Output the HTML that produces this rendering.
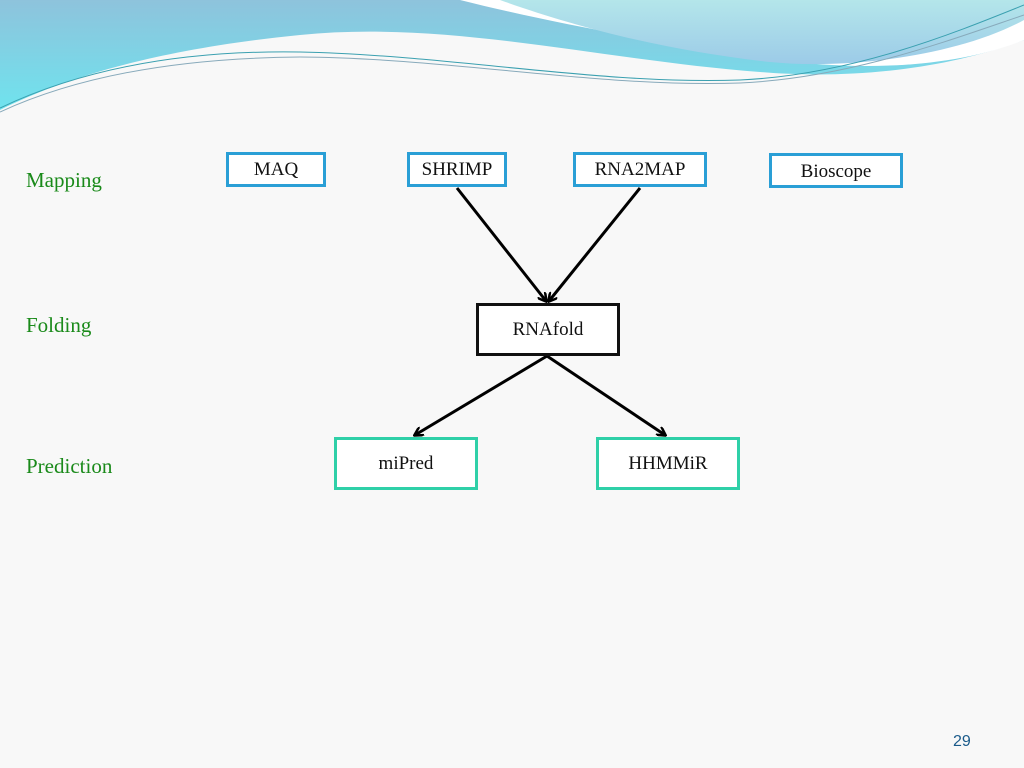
<!DOCTYPE html>
<html><head><meta charset="utf-8"><style>
html,body{margin:0;padding:0;}
body{width:1024px;height:768px;position:relative;background:#f8f8f8;font-family:"Liberation Serif",serif;overflow:hidden;}
.b{position:absolute;box-sizing:border-box;background:#fff;text-align:center;font-size:19px;color:#111;}
.bl{border:3px solid #2a9fd6;}
.bk{border:3px solid #111;}
.gr{border:3px solid #2fd0a8;}
.lab{position:absolute;color:#1a8a1a;font-size:21px;}
</style></head><body>
<svg width="1024" height="768" style="position:absolute;left:0;top:0">
<defs>
<linearGradient id="g1" x1="0" y1="0" x2="0" y2="1"><stop offset="0" stop-color="#8ec3dc"/><stop offset="1" stop-color="#6fe3ee"/></linearGradient>
<linearGradient id="g2" x1="0" y1="0" x2="0" y2="1"><stop offset="0" stop-color="#b4e6ea"/><stop offset="1" stop-color="#9ccbe8"/></linearGradient>
<marker id="ar" markerWidth="10" markerHeight="10" refX="8" refY="5" orient="auto" markerUnits="userSpaceOnUse"><path d="M0,0 L9,5 L0,10" fill="none" stroke="#000" stroke-width="2.5"/></marker>
</defs>
<path d="M0,0 H1024 V40 C930,75 830,78 760,72 C600,60 450,20 300,35 C150,50 60,80 0,110 Z" fill="url(#g1)"/>
<path d="M460,0 H1024 V40 C950,70 850,70 780,60 C640,40 540,20 460,0 Z" fill="#fff"/>
<path d="M500,0 H1024 V20 C960,55 850,70 770,62 C660,50 570,25 500,0 Z" fill="url(#g2)"/>
<path d="M0,108 C80,70 180,50 300,52 C450,55 600,85 740,80 C850,75 950,35 1024,5" fill="none" stroke="#3aa0b0" stroke-width="1"/>
<path d="M0,112 C80,75 180,58 300,57 C450,58 600,88 740,83 C850,78 950,40 1024,15" fill="none" stroke="#8ab" stroke-width="1"/>
<line x1="457" y1="188" x2="546" y2="301" stroke="#000" stroke-width="3" marker-end="url(#ar)"/>
<line x1="640" y1="188" x2="549" y2="301" stroke="#000" stroke-width="3" marker-end="url(#ar)"/>
<line x1="547" y1="356" x2="415" y2="435" stroke="#000" stroke-width="3" marker-end="url(#ar)"/>
<line x1="547" y1="356" x2="665" y2="435" stroke="#000" stroke-width="3" marker-end="url(#ar)"/>
</svg>
<div class="lab" style="left:26px;top:168px">Mapping</div>
<div class="lab" style="left:26px;top:313px">Folding</div>
<div class="lab" style="left:26px;top:454px">Prediction</div>
<div class="b bl" style="left:226px;top:152px;width:100px;height:35px;line-height:29px">MAQ</div>
<div class="b bl" style="left:407px;top:152px;width:100px;height:35px;line-height:29px">SHRIMP</div>
<div class="b bl" style="left:573px;top:152px;width:134px;height:35px;line-height:29px">RNA2MAP</div>
<div class="b bl" style="left:769px;top:153px;width:134px;height:35px;line-height:31px">Bioscope</div>
<div class="b bk" style="left:476px;top:303px;width:144px;height:53px;line-height:47px">RNAfold</div>
<div class="b gr" style="left:334px;top:437px;width:144px;height:53px;line-height:48px">miPred</div>
<div class="b gr" style="left:596px;top:437px;width:144px;height:53px;line-height:48px">HHMMiR</div>
<div style="position:absolute;left:953px;top:733px;font-family:'Liberation Sans',sans-serif;font-size:16px;color:#1a5a8a">29</div>
</body></html>
